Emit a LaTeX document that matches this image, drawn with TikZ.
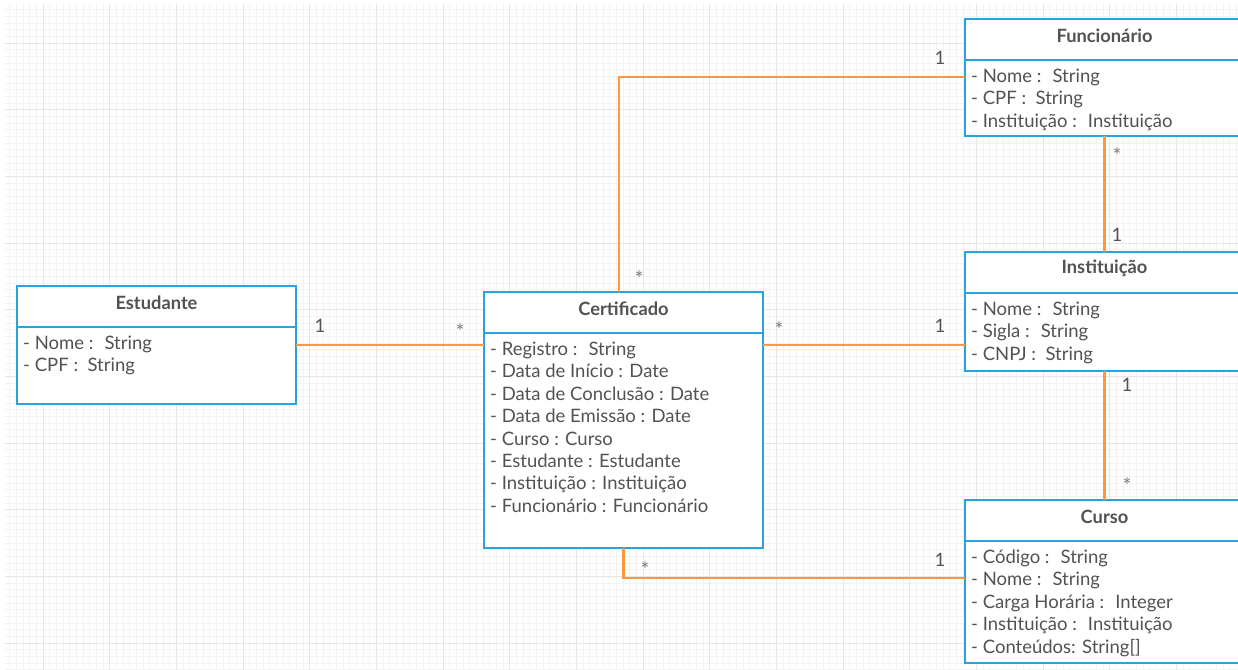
\documentclass[tikz,border=0pt]{standalone}
\usepackage{fontspec}
\setmainfont{Lato}
\usetikzlibrary{calc}
\definecolor{umlblue}{RGB}{41,163,224}
\definecolor{umlorange}{RGB}{255,150,66}
\definecolor{txtgray}{RGB}{82,82,82}
\definecolor{stargray}{RGB}{125,125,125}
\definecolor{gridminor}{RGB}{243,243,243}
\definecolor{gridmajor}{RGB}{230,230,230}
\begin{document}
\begin{tikzpicture}[x=1pt,y=-1pt,
  classbox/.style={draw=umlblue, line width=2pt, fill=white, minimum width=279pt, inner sep=0pt, outer sep=0pt, anchor=north west},
  sepline/.style={draw=umlblue, line width=2pt},
  hdr/.style={font=\fontsize{18.3}{18}\selectfont\bfseries, text=txtgray, inner sep=0pt},
  attr/.style={font=\fontsize{18.5}{20}\selectfont, text=txtgray, inner sep=0pt, anchor=base west},
  conn/.style={draw=umlorange, line width=2.2pt},
  multone/.style={font=\fontsize{18.5}{18}\selectfont, text=txtgray, inner sep=0pt},
  multstar/.style={font=\fontsize{21}{21}\selectfont, text=stargray, inner sep=0pt}]
\useasboundingbox (0,0) rectangle (1238,669);
\clip (0,0) rectangle (1238,669);
\fill[white] (0,0) rectangle (1238,669);
% grid
\begin{scope}
\clip (5,5) rectangle (1238,669);
\draw[gridminor, line width=0.6pt, shift={(3,3)}, step=6.6667pt] (-10,-10) grid (1300,700);
\draw[gridmajor, line width=0.8pt, shift={(43,43)}, step=66.667pt] (-70,-70) grid (1300,700);
\end{scope}
% class boxes
\node[classbox, minimum height=118pt] (est) at (17,286) {};
\node[classbox, minimum height=256pt] (cert) at (484,292) {};
\node[classbox, minimum height=117pt] (func) at (965,19) {};
\node[classbox, minimum height=119pt] (inst) at (965,252) {};
\node[classbox, minimum height=163pt] (curso) at (965,500) {};
\foreach \b in {est,cert,func,inst,curso}
  \draw[sepline] ($(\b.north west)+(0,41)$) -- ($(\b.north east)+(0,41)$);
% headers
\node[hdr] (est-h) at ($(est.north)+(0,16.5)$) {Estudante};
\node[hdr] (cert-h) at ($(cert.north)+(0,16.5)$) {Certificado};
\node[hdr] (func-h) at ($(func.north)+(0,16.5)$) {Funcionário};
\node[hdr] (inst-h) at ($(inst.north)+(0,16.5)$) {Instituição};
\node[hdr] (curso-h) at ($(curso.north)+(0,16.5)$) {Curso};
% attributes
\foreach \t [count=\i] in {{- Nome :~ String},{- CPF :~ String}}
  \node[attr] (est-a\i) at ($(est.north west)+(6,{63.5+(\i-1)*22.4})$) {\t};
\foreach \t [count=\i] in {{- Registro :~ String},{- Data de Início : Date},{- Data de Conclusão : Date},{- Data de Emissão : Date},{- Curso : Curso},{- Estudante : Estudante},{- Instituição : Instituição},{- Funcionário : Funcionário}}
  \node[attr] (cert-a\i) at ($(cert.north west)+(6,{63.5+(\i-1)*22.4})$) {\t};
\foreach \t [count=\i] in {{- Nome :~ String},{- CPF :~ String},{- Instituição :~ Instituição}}
  \node[attr] (func-a\i) at ($(func.north west)+(6,{63.5+(\i-1)*22.4})$) {\t};
\foreach \t [count=\i] in {{- Nome :~ String},{- Sigla :~ String},{- CNPJ :~ String}}
  \node[attr] (inst-a\i) at ($(inst.north west)+(6,{63.5+(\i-1)*22.4})$) {\t};
\foreach \t [count=\i] in {{- Código :~ String},{- Nome :~ String},{- Carga Horária :~ Integer},{- Instituição :~ Instituição},{- Conteúdos: String[]}}
  \node[attr] (curso-a\i) at ($(curso.north west)+(6,{63.5+(\i-1)*22.4})$) {\t};
% connectors
\coordinate (cf) at ($(func.west)+(0,-0.5)$);
\coordinate (cc) at ($(curso.west)+(0,-3.5)$);
\draw[conn] (est.east) -- (est.east -| cert.west);
\draw[conn] ($(cert.north)+(-4.5,0)$) |- (cf);
\draw[conn] (cert.east |- est.east) -- (inst.west |- est.east);
\draw[conn] (func.south) -- (inst.north);
\draw[conn] (inst.south) -- (curso.north);
\draw[conn] (cert.south) |- (cc);
% multiplicities
\node[multone] (m1) at (320,326) {1};
\node[multstar] (m2) at (460,332) {*};
\node[multstar] (m3) at (639,279) {*};
\node[multone] (m4) at (940,58) {1};
\node[multstar] (m5) at (779,330) {*};
\node[multone] (m6) at (940,326) {1};
\node[multstar] (m7) at (1117,156) {*};
\node[multone] (m8) at (1117,235) {1};
\node[multone] (m9) at (1127,385) {1};
\node[multstar] (m10) at (1127,486) {*};
\node[multstar] (m11) at (645,570) {*};
\node[multone] (m12) at (940,560) {1};
\end{tikzpicture}
\end{document}
